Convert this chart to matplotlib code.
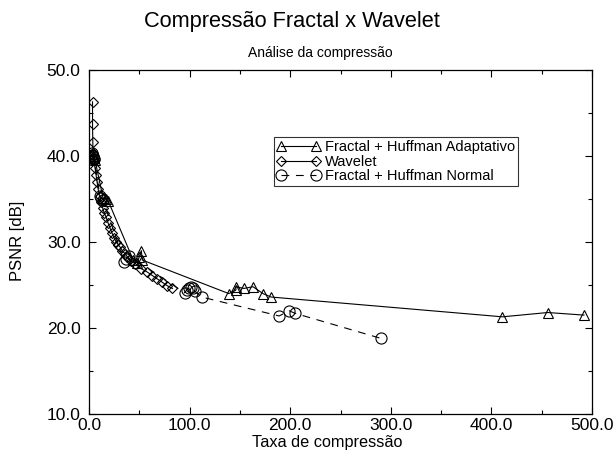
import matplotlib
matplotlib.use("Agg")
import matplotlib.pyplot as plt
from matplotlib.ticker import MultipleLocator, FormatStrFormatter

plt.rcParams['font.family'] = ['Liberation Sans', 'DejaVu Sans']

# Fractal + Huffman Adaptativo
adapt_x = [3, 4, 5, 6, 14, 17, 19, 44, 48, 50, 52, 53,
           139, 146, 146, 154, 163, 173, 181, 411, 456, 492]
adapt_y = [40.2, 40.0, 39.8, 39.5, 35.1, 35.0, 34.8, 27.9, 27.6, 28.3, 29.0, 27.9,
           24.0, 24.4, 24.8, 24.6, 24.8, 24.0, 23.6, 21.3, 21.8, 21.5]

# Wavelet
wave_x = [3.5, 3.5, 3.8, 4.0, 5.0, 6.0, 7.0, 8.0, 9.0, 10.5, 12, 13.5, 15, 17, 19,
          21, 23, 25, 27, 29, 31, 33, 36, 38, 42, 46, 52, 58, 63, 68, 73, 78, 83]
wave_y = [46.3, 43.7, 41.6, 40.3, 39.5, 38.6, 37.8, 37.0, 36.2, 35.3, 34.6, 34.0, 33.4,
          32.9, 32.2, 31.6, 31.0, 30.5, 30.0, 29.7, 29.4, 29.0, 28.6, 28.3, 27.8, 27.5,
          26.9, 26.5, 26.1, 25.7, 25.3, 24.9, 24.6]

# Fractal + Huffman Normal
normal_x = [2.5, 3, 3.5, 4, 4.5, 5, 11, 12, 14, 35, 37, 40,
            95, 97, 99, 101, 103, 105, 112, 189, 199, 205, 290]
normal_y = [40.3, 40.1, 40.0, 39.9, 39.7, 39.6, 35.3, 35.1, 34.9, 27.7, 28.0, 28.4,
            24.1, 24.4, 24.6, 24.8, 24.7, 24.3, 23.6, 21.4, 22.0, 21.7, 18.8]

fig = plt.figure(figsize=(6.15, 4.54), dpi=100)
ax = fig.add_axes([89 / 615, 1 - 414 / 454, 503 / 615, 344 / 454])

ax.plot(adapt_x, adapt_y, color='black', lw=0.8, marker='^', ms=7.5,
        mfc='none', mec='black', mew=0.8, label='Fractal + Huffman Adaptativo')
ax.plot(wave_x, wave_y, color='black', lw=0.8, marker='D', ms=5.5,
        mfc='none', mec='black', mew=0.8, label='Wavelet')
ax.plot(normal_x, normal_y, color='black', lw=0.8, ls=(0, (7, 6)), marker='o', ms=8,
        mfc='none', mec='black', mew=0.8, label='Fractal + Huffman Normal')

ax.set_xlim(0, 500)
ax.set_ylim(10, 50)
ax.xaxis.set_major_locator(MultipleLocator(100))
ax.xaxis.set_minor_locator(MultipleLocator(50))
ax.yaxis.set_major_locator(MultipleLocator(10))
ax.yaxis.set_minor_locator(MultipleLocator(5))
ax.xaxis.set_major_formatter(FormatStrFormatter('%.1f'))
ax.yaxis.set_major_formatter(FormatStrFormatter('%.1f'))
ax.tick_params(which='both', direction='in', top=True, right=True, labelsize=12.5)
ax.tick_params(axis='y', pad=6)
ax.tick_params(axis='x', pad=3)
ax.tick_params(which='major', length=5, width=0.8)
ax.tick_params(which='minor', length=3, width=0.8)
for s in ax.spines.values():
    s.set_linewidth(0.9)

fig.text(292 / 615, 1 - 22 / 454, 'Compressão Fractal x Wavelet', fontsize=15.7,
         ha='center', va='center')
fig.text(320 / 615, 1 - 53 / 454, 'Análise da compressão', fontsize=10,
         ha='center', va='center')
fig.text(327 / 615, 1 - 443 / 454, 'Taxa de compressão', fontsize=11.7,
         ha='center', va='center')
fig.text(18 / 615, 1 - 241 / 454, 'PSNR [dB]', fontsize=12, rotation=90,
         ha='center', va='center')

leg = ax.legend(loc='upper left', bbox_to_anchor=((274 - 89) / 503, (414 - 137) / 344),
                fontsize=10.5, frameon=True, fancybox=False, edgecolor='black',
                borderpad=0.2, labelspacing=0.05, handlelength=3.0, handletextpad=0.3,
                borderaxespad=0, numpoints=2)
leg.get_frame().set_linewidth(0.8)

fig.savefig('out.png', dpi=100)
